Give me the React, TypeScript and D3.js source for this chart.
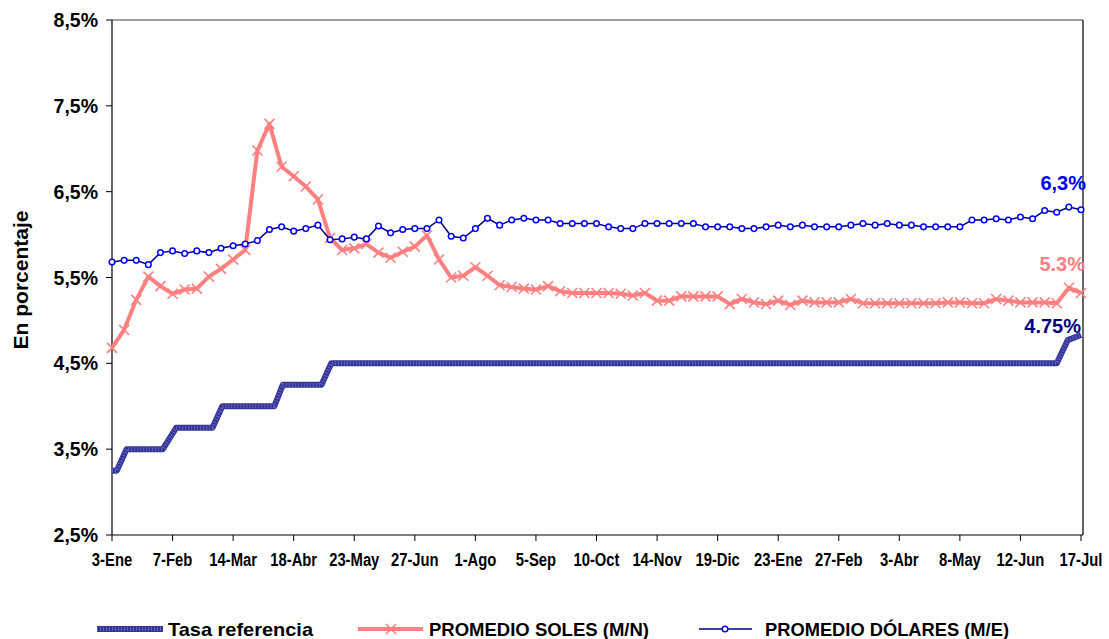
import React from "react";
import * as d3 from "d3";

// ---- Data ----
const tickLabels = ["3-Ene","7-Feb","14-Mar","18-Abr","23-May","27-Jun","1-Ago","5-Sep","10-Oct","14-Nov","19-Dic","23-Ene","27-Feb","3-Abr","8-May","12-Jun","17-Jul"];
const yTicks = [2.5, 3.5, 4.5, 5.5, 6.5, 7.5, 8.5];

const soles = [4.68,4.89,5.24,5.51,5.40,5.31,5.36,5.37,5.51,5.60,5.71,
  5.82,6.98,7.29,6.79,6.68,6.56,6.41,5.96,5.82,5.84,
  5.89,5.79,5.73,5.80,5.86,5.99,5.71,5.50,5.52,5.62,
  5.52,5.41,5.39,5.37,5.36,5.40,5.34,5.32,5.32,5.32,
  5.32,5.31,5.29,5.32,5.23,5.23,5.28,5.28,5.28,5.28,
  5.19,5.25,5.21,5.19,5.23,5.18,5.23,5.21,5.21,5.21,
  5.25,5.20,5.20,5.20,5.20,5.20,5.20,5.20,5.21,5.21,
  5.20,5.20,5.25,5.23,5.21,5.21,5.21,5.20,5.38,5.32];

const dolares = [5.68,5.70,5.70,5.65,5.79,5.81,5.78,5.81,5.79,5.84,5.87,
  5.89,5.93,6.06,6.09,6.04,6.07,6.11,5.94,5.95,5.97,
  5.95,6.10,6.02,6.06,6.07,6.07,6.17,5.98,5.96,6.07,
  6.19,6.11,6.17,6.19,6.17,6.17,6.13,6.13,6.13,6.13,
  6.09,6.07,6.07,6.13,6.13,6.13,6.13,6.13,6.09,6.09,
  6.09,6.07,6.07,6.09,6.11,6.09,6.11,6.09,6.09,6.09,
  6.11,6.13,6.11,6.13,6.11,6.11,6.09,6.09,6.09,6.09,
  6.17,6.17,6.185,6.17,6.205,6.185,6.28,6.26,6.32,6.29];

// reference rate change points (week index, value)
const tasaWeeks = [0,0.4,1.2,4.2,5.3,8.3,9.1,13.4,14.1,17.3,18.1,78,78.9,80];
const tasaValues = [3.25,3.25,3.5,3.5,3.75,3.75,4.0,4.0,4.25,4.25,4.5,4.5,4.77,4.83];

const seriesNames = ["Tasa referencia", "PROMEDIO SOLES (M/N)", "PROMEDIO DÓLARES (M/E)"];
const endLabels = ["4.75%", "5.3%", "6,3%"];

const W = 1109, H = 639;
const left = 112, right = 1081, top = 20, bottom = 535;
const x = d3.scaleLinear().domain([0, 80]).range([left, right]);
const y = d3.scaleLinear().domain([2.5, 8.5]).range([bottom, top]);

const PINK = "#FF8080";
const NAVY = "#000080";
const BLUE = "#0000FF";
const TASA = "#333399";
const font = "'Liberation Sans', Arial, sans-serif";

function XMark({ cx, cy, s = 5 }: { cx: number; cy: number; s?: number }) {
  return (
    <path d={`M${cx - s},${cy - s}L${cx + s},${cy + s}M${cx - s},${cy + s}L${cx + s},${cy - s}`}
      stroke={PINK} strokeWidth={1.6} fill="none" />
  );
}

export default function App() {
  const line = d3.line<[number, number]>().x(d => x(d[0])).y(d => y(d[1]));
  const tasaPath = line(tasaWeeks.map((w, i) => [w, tasaValues[i]]))!;
  const solesPath = line(soles.map((v, i) => [i, v]))!;
  const dolPath = line(dolares.map((v, i) => [i, v]))!;
  const tickIdx = tickLabels.map((_, i) => i * 5);

  return (
    <svg width={W} height={H} style={{ display: "block", position: "absolute", left: 0, top: 0 }}>
      <rect width={W} height={H} fill="#fff" />
      {/* plot frame */}
      <line x1={left} x2={right + 2} y1={top} y2={top} stroke="#808080" strokeWidth={1.5} />
      <line x1={right + 2} x2={right + 2} y1={top} y2={bottom} stroke="#000" strokeWidth={1.2} />
      <line x1={left} x2={left} y1={top} y2={bottom} stroke="#000" strokeWidth={1.2} />
      <line x1={left} x2={right + 2} y1={bottom} y2={bottom} stroke="#000" strokeWidth={1.2} />

      {/* y axis ticks */}
      {yTicks.map(t => (
        <g key={t}>
          <line x1={left - 6} x2={left} y1={y(t)} y2={y(t)} stroke="#000" />
          <text x={98} y={y(t) + 7} textAnchor="end" fontFamily={font} fontWeight="bold" fontSize={19.5}>
            {t.toFixed(1).replace(".", ",")}%
          </text>
        </g>
      ))}
      <text transform={`translate(28,280) rotate(-90)`} textAnchor="middle" fontFamily={font} fontWeight="bold" fontSize={21}>
        En porcentaje
      </text>

      {/* x axis ticks */}
      {tickIdx.map((w, i) => (
        <g key={w}>
          <line x1={x(w)} x2={x(w)} y1={bottom} y2={bottom + 6} stroke="#000" />
          <text transform={`translate(${x(w)},566) scale(0.78,1)`} textAnchor="middle" fontFamily={font} fontWeight="bold" fontSize={19}>
            {tickLabels[i]}
          </text>
        </g>
      ))}

      {/* Tasa referencia */}
      <path d={tasaPath} fill="none" stroke={TASA} strokeWidth={6} strokeLinejoin="round" />
      <path d={tasaPath} fill="none" stroke="#6666bb" strokeWidth={4} strokeDasharray="1,2" />

      {/* Soles */}
      <path d={solesPath} fill="none" stroke={PINK} strokeWidth={4} strokeLinejoin="round" />
      {soles.map((v, i) => <XMark key={i} cx={x(i)} cy={y(v)} />)}

      {/* Dolares */}
      <path d={dolPath} fill="none" stroke={NAVY} strokeWidth={1.5} />
      {dolares.map((v, i) => (
        <circle key={i} cx={x(i)} cy={y(v)} r={2.8} fill="#fff" stroke={BLUE} strokeWidth={1.5} />
      ))}

      {/* end labels */}
      <text x={1081} y={333} textAnchor="end" fontFamily={font} fontWeight="bold" fontSize={20} fill={NAVY}>{endLabels[0]}</text>
      <text x={1085} y={271} textAnchor="end" fontFamily={font} fontWeight="bold" fontSize={20} fill={PINK}>{endLabels[1]}</text>
      <text x={1086} y={190} textAnchor="end" fontFamily={font} fontWeight="bold" fontSize={20} fill={BLUE}>{endLabels[2]}</text>

      {/* legend */}
      <g>
        <line x1={97} x2={163} y1={629} y2={629} stroke={TASA} strokeWidth={6} />
        <line x1={97} x2={163} y1={629} y2={629} stroke="#6666bb" strokeWidth={4} strokeDasharray="1,2" />
        <text x={168} y={636} fontFamily={font} fontWeight="bold" fontSize={19} textLength={145} lengthAdjust="spacingAndGlyphs">{seriesNames[0]}</text>

        <line x1={358} x2={423} y1={629} y2={629} stroke={PINK} strokeWidth={4} />
        <XMark cx={391} cy={629} />
        <text x={429} y={636} fontFamily={font} fontWeight="bold" fontSize={19} textLength={220} lengthAdjust="spacingAndGlyphs">{seriesNames[1]}</text>

        <line x1={699} x2={752} y1={629} y2={629} stroke={NAVY} strokeWidth={1.5} />
        <circle cx={725} cy={629} r={2.8} fill="#fff" stroke={BLUE} strokeWidth={1.5} />
        <text x={765} y={636} fontFamily={font} fontWeight="bold" fontSize={19} textLength={244} lengthAdjust="spacingAndGlyphs">{seriesNames[2]}</text>
      </g>
    </svg>
  );
}
